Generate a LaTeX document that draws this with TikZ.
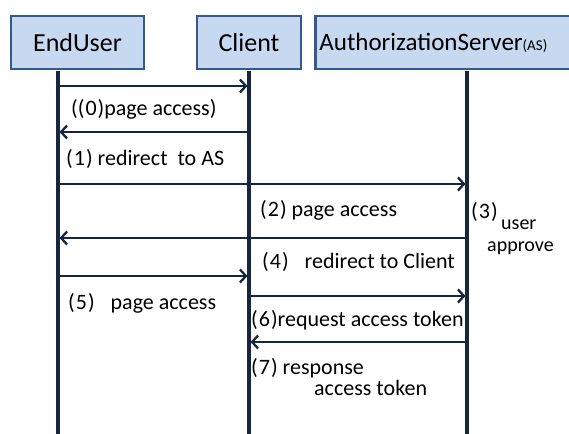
\documentclass[tikz,border=0pt]{standalone}
\usepackage{fontspec}
\setmainfont{Carlito}
\usetikzlibrary{arrows.meta}

\definecolor{boxfill}{HTML}{C6D9F1}
\definecolor{boxline}{HTML}{34598A}
\definecolor{seqline}{HTML}{17253F}

\tikzset{
  actor/.style={draw=boxline, fill=boxfill, line width=2.8pt, minimum height=53pt, inner sep=0pt, font=\fontsize{26}{30}\selectfont},
  life/.style={draw=seqline, line width=3.2pt},
  msg/.style={draw=seqline, line width=2.5pt, shorten >=1.5pt, -{Straight Barb[length=6pt,width=13pt,line width=2.3pt]}},
  lbl/.style={anchor=west, inner sep=0pt, font=\fontsize{22}{26}\selectfont},
}
% wider parenthesised step numbers
\newcommand{\stepno}[1]{(\kern1pt#1\kern1pt)}

\begin{document}
\begin{tikzpicture}[x=1pt,y=-1pt]
			%%%%% START %%%%%
			\useasboundingbox (0,0) rectangle (569,433);
			\clip (0,0) rectangle (569,433);
			
			% heads
			\node[actor, minimum width=133pt] (euBox) at (77.5,42.5) {EndUser};
			\node[actor, minimum width=104pt] (clBox) at (249,42.5) {Client};
			\node[actor, anchor=west, text width=290pt, align=left, inner xsep=4pt, font=\fontsize{25}{30}\selectfont] (asBox) at (314,42.5)
				{AuthorizationServer{\fontsize{15}{18}\selectfont(AS)}};
			
			% lifelines
			\coordinate (eu) at (58,71);
			\coordinate (cl) at (249,71);
			\coordinate (as) at (467,71);
			\coordinate (bottom) at (0,440);
			\draw[life] (eu) -- (eu |- bottom);
			\draw[life] (cl) -- (cl |- bottom);
			\draw[life] (as) -- (as |- bottom);
			
			% message levels
			\coordinate (m0) at (0,86);
			\coordinate (m1) at (0,132);
			\coordinate (m2) at (0,184);
			\coordinate (m3) at (0,238);
			\coordinate (m4) at (0,276);
			\coordinate (m5) at (0,296);
			\coordinate (m6) at (0,342);
			
			\draw[msg] (eu |- m0) -- (cl |- m0);
			\draw[msg] (cl |- m1) -- (eu |- m1);
			\draw[msg] (eu |- m2) -- (as |- m2);
			\draw[msg] (as |- m3) -- (eu |- m3);
			\draw[msg] (eu |- m4) -- (cl |- m4);
			\draw[msg] (cl |- m5) -- (as |- m5);
			\draw[msg] (as |- m6) -- (cl |- m6);
			
			% labels
			\node[lbl] (t0) at (71,109) {(\stepno{0}page access)};
			\node[lbl] (t1) at (66,159) {\stepno{1}~redirect~~to AS};
			\node[lbl] (t2) at (260,210) {\stepno{2}~page access};
			\node[lbl] (t3) at (471,212) {\stepno{3}};
			\node[lbl, font=\fontsize{20}{24}\selectfont] (t3a) at (501,225) {user};
			\node[lbl, font=\fontsize{20}{24}\selectfont] (t3b) at (487,248) {approve};
			\node[lbl] (t4) at (262,262) {\stepno{4}\hspace{16pt}redirect to Client};
			\node[lbl] (t5) at (68,303) {\stepno{5}\hspace{16pt}page access};
			\node[lbl] (t6) at (251,320) {\stepno{6}request access token};
			\node[lbl] (t7) at (251,368) {\stepno{7}~response};
			\node[lbl] (t7a) at (314,388) {access token};
			
			%%%%% END %%%%%
\end{tikzpicture}
\end{document}
